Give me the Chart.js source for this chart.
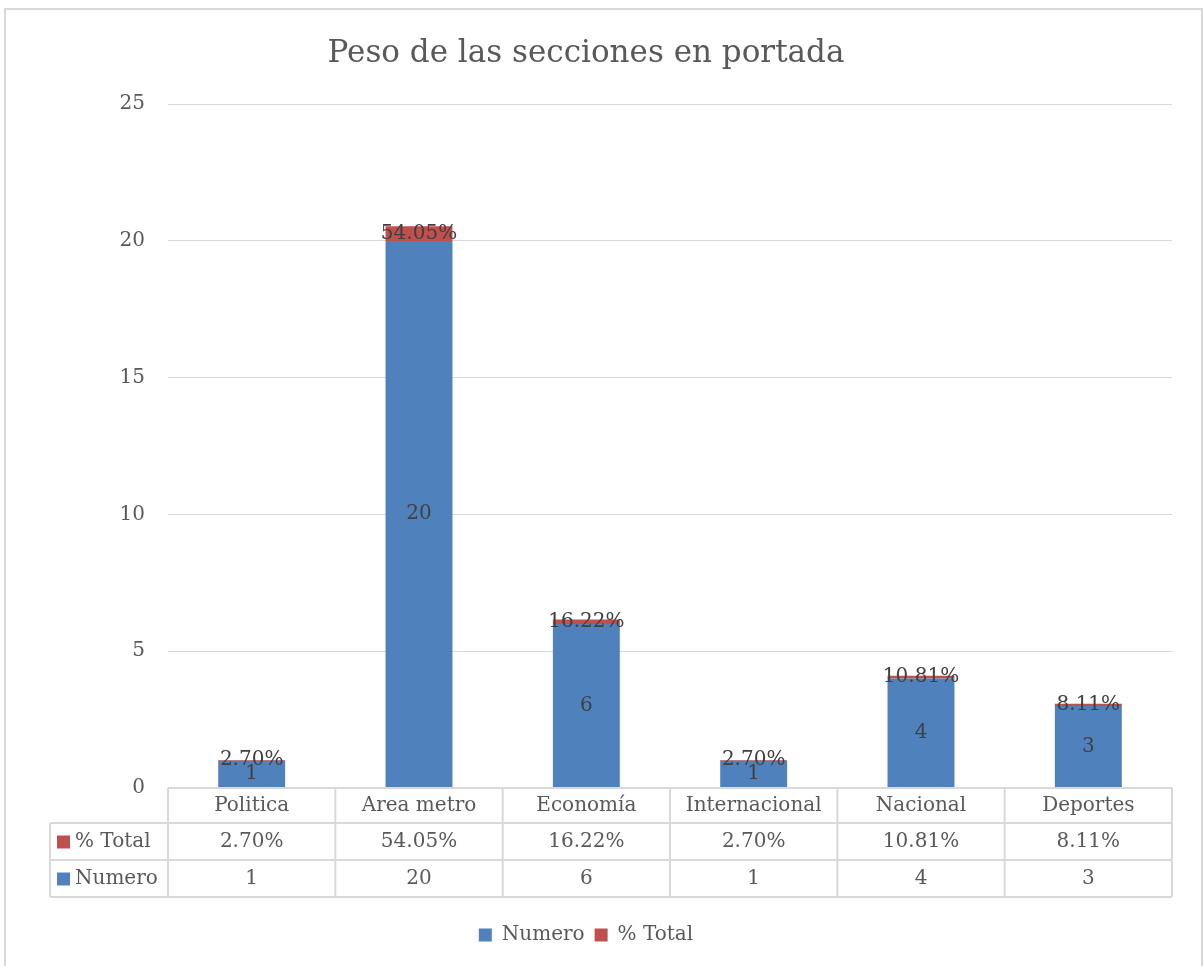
<!DOCTYPE html>
<html>
<head>
<meta charset="utf-8">
<script src="https://cdn.jsdelivr.net/npm/chart.js@4.4.0/dist/chart.umd.min.js"></script>
<style>
  body { margin: 0; background: #fff; }
  #wrap { width: 1203px; height: 966px; position: relative; }
</style>
</head>
<body>
<div id="wrap"><canvas id="grafico"></canvas></div>
<script>
// Datos del gráfico
const secciones = ['Politica', 'Area metro', 'Economía', 'Internacional', 'Nacional', 'Deportes'];
const numero = [1, 20, 6, 1, 4, 3];
const porcentaje = [0.027, 0.5405, 0.1622, 0.027, 0.1081, 0.0811];
const ticksY = [0, 5, 10, 15, 20, 25];

const fuente = '"DejaVu Serif", serif';
const gris = '#595959';
const azul = '#4F81BD';
const rojo = '#C0504D';
const linea = '#D9D9D9';

const fmtPct = v => (v * 100).toFixed(2) + '%';

// fondo blanco y borde del gráfico
const fondo = {
  id: 'fondo',
  beforeDraw(chart) {
    const ctx = chart.ctx;
    ctx.save();
    ctx.fillStyle = '#fff';
    ctx.fillRect(0, 0, chart.width, chart.height);
    ctx.strokeStyle = linea;
    ctx.lineWidth = 2;
    ctx.strokeRect(5, 9, chart.width - 6, chart.height + 10);
    ctx.restore();
  }
};

// etiquetas de datos dentro de las barras
const etiquetas = {
  id: 'etiquetas',
  afterDatasetsDraw(chart) {
    const ctx = chart.ctx;
    ctx.save();
    ctx.font = '20px ' + fuente;
    ctx.fillStyle = '#404040';
    ctx.textAlign = 'center';
    ctx.textBaseline = 'middle';
    chart.data.datasets.forEach((ds, i) => {
      chart.getDatasetMeta(i).data.forEach((bar, j) => {
        const y = (bar.y + bar.base) / 2;
        const txt = i === 0 ? String(numero[j]) : fmtPct(porcentaje[j]);
        ctx.fillText(txt, bar.x, y);
      });
    });
    ctx.restore();
  }
};

// tabla de datos bajo el eje
const tabla = {
  id: 'tabla',
  afterDraw(chart) {
    const { ctx, chartArea: a, scales: { x } } = chart;
    const filas = [a.bottom, a.bottom + 35, a.bottom + 72, a.bottom + 109];
    const izq = 50;
    const ancho = (a.right - a.left) / secciones.length;

    ctx.save();
    ctx.strokeStyle = linea;
    ctx.lineWidth = 2;
    ctx.beginPath();
    ctx.moveTo(a.left, filas[0]); ctx.lineTo(a.right, filas[0]);
    for (let k = 1; k < 4; k++) {
      ctx.moveTo(izq, filas[k]); ctx.lineTo(a.right, filas[k]);
    }
    for (let k = 0; k < secciones.length; k++) {
      const xx = x.getPixelForTick(k) - ancho / 2;
      ctx.moveTo(xx, filas[0]); ctx.lineTo(xx, filas[3]);
    }
    ctx.moveTo(a.right, filas[0]); ctx.lineTo(a.right, filas[3]);
    ctx.moveTo(izq, filas[1]); ctx.lineTo(izq, filas[3]);
    ctx.stroke();

    ctx.font = '20px ' + fuente;
    ctx.fillStyle = gris;
    ctx.textAlign = 'center';
    ctx.textBaseline = 'middle';
    secciones.forEach((s, k) => {
      const cx = x.getPixelForTick(k);
      ctx.fillText(s, cx, (filas[0] + filas[1]) / 2);
      ctx.fillText(fmtPct(porcentaje[k]), cx, (filas[1] + filas[2]) / 2);
      ctx.fillText(String(numero[k]), cx, (filas[2] + filas[3]) / 2);
    });

    // leyenda de la tabla
    const claves = [[rojo, '% Total'], [azul, 'Numero']];
    ctx.textAlign = 'left';
    claves.forEach((c, k) => {
      const cy = (filas[k + 1] + filas[k + 2]) / 2;
      ctx.fillStyle = c[0];
      ctx.fillRect(57, cy - 6, 13, 13);
      ctx.fillStyle = gris;
      ctx.fillText(c[1], 75, cy);
    });
    ctx.restore();
  }
};

new Chart(document.getElementById('grafico'), {
  type: 'bar',
  data: {
    labels: secciones,
    datasets: [
      { label: 'Numero', data: numero, backgroundColor: azul },
      { label: '% Total', data: porcentaje, backgroundColor: rojo }
    ]
  },
  options: {
    responsive: true,
    maintainAspectRatio: false,
    animation: false,
    layout: { padding: { top: 0, right: 31, bottom: 11, left: 0 } },
    datasets: { bar: { barPercentage: 0.4, categoryPercentage: 1 } },
    scales: {
      x: {
        stacked: true,
        grid: { display: false },
        border: { display: false },
        ticks: { display: false },
        afterFit(scale) { scale.height = 127; }
      },
      y: {
        stacked: true,
        min: 0,
        max: 25,
        afterBuildTicks(scale) { scale.ticks = ticksY.map(v => ({ value: v })); },
        grid: { color: linea, drawTicks: false },
        border: { display: false },
        ticks: { color: gris, font: { family: fuente, size: 20 }, padding: 23 },
        afterFit(scale) { scale.width = 168; }
      }
    },
    plugins: {
      title: {
        display: true,
        text: 'Peso de las secciones en portada',
        color: gris,
        font: { family: fuente, size: 31, weight: 'normal' },
        padding: { top: 35, bottom: 32 }
      },
      legend: {
        position: 'bottom',
        labels: {
          color: gris,
          font: { family: fuente, size: 20 },
          boxWidth: 13,
          boxHeight: 13,
          padding: 10
        }
      },
      tooltip: { enabled: false }
    }
  },
  plugins: [fondo, etiquetas, tabla]
});
</script>
</body>
</html>
